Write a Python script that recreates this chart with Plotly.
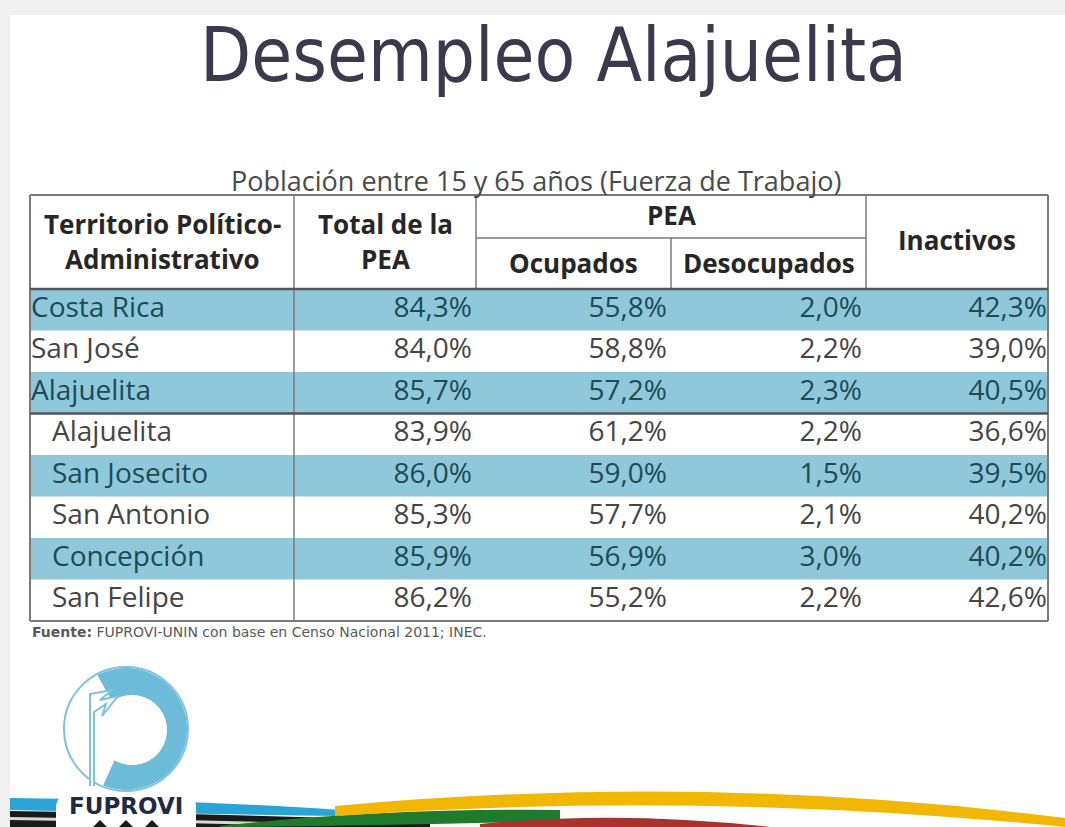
import numpy as np
import plotly.graph_objects as go

# ---------------- data ----------------
territorios = ["Costa Rica", "San José", "Alajuelita", "Alajuelita",
               "San Josecito", "San Antonio", "Concepción", "San Felipe"]
nivel = [0, 0, 0, 1, 1, 1, 1, 1]          # 0 = país/provincia/cantón, 1 = distrito
total_pea = [84.3, 84.0, 85.7, 83.9, 86.0, 85.3, 85.9, 86.2]
ocupados = [55.8, 58.8, 57.2, 61.2, 59.0, 57.7, 56.9, 55.2]
desocupados = [2.0, 2.2, 2.3, 2.2, 1.5, 2.1, 3.0, 2.2]
inactivos = [42.3, 39.0, 40.5, 36.6, 39.5, 40.2, 40.2, 42.6]

titulo = "Desempleo Alajuelita"
subtitulo = "Población entre 15 y 65 años (Fuerza de Trabajo)"
fuente = "FUPROVI-UNIN con base en Censo Nacional 2011; INEC."

# ---------------- layout geometry ----------------
W, H = 1065, 827
col_edges = [30, 294, 476, 671, 866, 1048]
top_y, head_bot, sub_y = 195, 289, 238
row_h = 41.5
n = len(territorios)
bot_y = head_bot + n * row_h

BAND = "#8fc8da"
LINE = "#7a7a7a"
TXT_DARK = "#1d4a57"
TXT_GRAY = "#454545"
HEAD = "#262626"
FONT = "'Open Sans', Lato, sans-serif"

def fmt(v):
    return f"{v:.1f}".replace(".", ",") + "%"

fig = go.Figure()
shapes = []
ann = []

# slide background / frame
shapes.append(dict(type="rect", x0=0, x1=W, y0=0, y1=H, fillcolor="#f0f0f0", line_width=0, layer="below"))
shapes.append(dict(type="rect", x0=10, x1=W, y0=15, y1=H, fillcolor="white", line_width=0, layer="below"))

# row bands
banded = [i for i in range(n) if i in (0, 2, 4, 6)]
for i in banded:
    y0 = head_bot + i * row_h
    shapes.append(dict(type="rect", x0=col_edges[0], x1=col_edges[-1], y0=y0, y1=y0 + row_h,
                       fillcolor=BAND, line_width=0, layer="below"))

# table lines
def seg(x0, y0, x1, y1, w=1.5, c=LINE):
    shapes.append(dict(type="line", x0=x0, y0=y0, x1=x1, y1=y1, line=dict(color=c, width=w)))

seg(col_edges[0], top_y, col_edges[-1], top_y, 2)
seg(col_edges[0], bot_y, col_edges[-1], bot_y, 2)
seg(col_edges[0], top_y, col_edges[0], bot_y, 2)
seg(col_edges[-1], top_y, col_edges[-1], bot_y, 2)
seg(col_edges[1], top_y, col_edges[1], bot_y, 1.5)
for k in (2, 4):
    seg(col_edges[k], top_y, col_edges[k], head_bot, 1.5)
seg(col_edges[3], sub_y, col_edges[3], head_bot, 1.5)
seg(col_edges[2], sub_y, col_edges[4], sub_y, 1.5)
seg(col_edges[0], head_bot, col_edges[-1], head_bot, 2.5, "#555555")
seg(col_edges[0], head_bot + 3 * row_h, col_edges[-1], head_bot + 3 * row_h, 2.5, "#555555")

# header text
def htext(x, y, t, size=26):
    ann.append(dict(x=x, y=y, text=t, showarrow=False, xanchor="center", yanchor="middle",
                    font=dict(family=FONT, size=size, color=HEAD, weight="bold")))

mid = lambda a, b: (a + b) / 2
htext(mid(col_edges[0], col_edges[1]), 224, "Territorio Político-")
htext(mid(col_edges[0], col_edges[1]), 259, "Administrativo")
htext(mid(col_edges[1], col_edges[2]), 224, "Total de la")
htext(mid(col_edges[1], col_edges[2]), 259, "PEA")
htext(mid(col_edges[2], col_edges[4]), 215, "PEA")
htext(mid(col_edges[2], col_edges[3]), 263, "Ocupados")
htext(mid(col_edges[3], col_edges[4]), 263, "Desocupados")
htext(mid(col_edges[4], col_edges[5]), 240, "Inactivos")

# data cells
row_y = [head_bot + (i + 0.5) * row_h for i in range(n)]
colors = [TXT_DARK if i in banded else TXT_GRAY for i in range(n)]
name_x = [col_edges[0] + 1 + 21 * lv for lv in nivel]
fig.add_trace(go.Scatter(x=name_x, y=row_y, mode="text", text=territorios,
                         textposition="middle right",
                         textfont=dict(family=FONT, size=28, color=colors),
                         hoverinfo="skip", showlegend=False))
for k, vals in enumerate([total_pea, ocupados, desocupados, inactivos]):
    xr = col_edges[k + 2] - (4 if k < 3 else 1)
    fig.add_trace(go.Scatter(x=[xr] * n, y=row_y, mode="text", text=[fmt(v) for v in vals],
                             textposition="middle left",
                             textfont=dict(family=FONT, size=28, color=colors),
                             hoverinfo="skip", showlegend=False))

# title, subtitle, source
ann.append(dict(x=553, y=55, text=titulo, showarrow=False, xanchor="center", yanchor="middle",
                font=dict(family="'DejaVu Sans Condensed', 'DejaVu Sans', sans-serif",
                          size=74, color="#3a3a4c")))
ann.append(dict(x=536, y=180, text=subtitulo, showarrow=False, xanchor="center", yanchor="middle",
                font=dict(family=FONT, size=27, color="#4a4a4a")))
ann.append(dict(x=30, y=632, text="<b>Fuente:</b> " + fuente, showarrow=False, xanchor="left",
                yanchor="middle", font=dict(family="DejaVu Sans", size=14, color="#5a5a5a")))

# ---------------- bottom swoosh (decoration) ----------------
def band(top, bot, color):
    p = f"M {top[0][0]},{top[0][1]} Q {top[1][0]},{top[1][1]} {top[2][0]},{top[2][1]} "
    p += f"L {bot[2][0]},{bot[2][1]} Q {bot[1][0]},{bot[1][1]} {bot[0][0]},{bot[0][1]} Z"
    shapes.append(dict(type="path", path=p, fillcolor=color, line_width=0))

band([(10, 798), (200, 800), (340, 810)], [(10, 810), (200, 814), (340, 816)], "#2aa3d6")
band([(10, 811), (250, 814), (430, 822)], [(10, 827), (250, 827), (430, 827)], "#1a1a1a")
band([(10, 817), (150, 819), (300, 823)], [(10, 820), (150, 822), (300, 826)], "#d8d8d8")
band([(220, 826), (380, 808), (560, 810)], [(220, 827), (380, 826), (560, 821)], "#1f7a2e")
band([(335, 806), (700, 772), (1065, 818)], [(335, 816), (700, 790), (1065, 827)], "#f2b705")
band([(480, 824), (620, 810), (770, 827)], [(480, 827), (620, 827), (770, 827)], "#a8322d")

# ---------------- logo (decoration) ----------------
cx, cy, R = 126, 729, 62
shapes.append(dict(type="path",
                   path="M 56,827 L 56,805 Q 62,785 85,786 L 170,786 Q 192,785 196,805 L 196,827 Z",
                   fillcolor="white", line_width=0))
shapes.append(dict(type="circle", x0=cx - R - 4, x1=cx + R + 4, y0=cy - R - 4, y1=cy + R + 4,
                   fillcolor="white", line_width=0))
shapes.append(dict(type="circle", x0=cx - R, x1=cx + R, y0=cy - R, y1=cy + R,
                   fillcolor="white", line=dict(color="#7cc3dd", width=2)))
th_o = np.radians(np.linspace(118, -112, 60))
outer = [(cx + (R - 1) * np.cos(t), cy - (R - 1) * np.sin(t)) for t in th_o]
ci, ri = (cx + 6, cy + 1), 35
th_i = np.radians(np.linspace(-120, 125, 60))
inner = [(ci[0] + ri * np.cos(t), ci[1] - ri * np.sin(t)) for t in th_i]
pts = outer + inner
path = "M " + " L ".join(f"{x:.1f},{y:.1f}" for x, y in pts) + " Z"
shapes.append(dict(type="path", path=path, fillcolor="#6bbbd9", line_width=0))
shapes.append(dict(type="path",
                   path="M 94,786 L 94,712 L 106,704 L 102,716 L 118,696 L 100,700 L 112,690 L 90,694 L 90,786",
                   fillcolor="white", line=dict(color="#7cc3dd", width=2)))
ann.append(dict(x=126, y=806, text="<b>FUPROVI</b>", showarrow=False, xanchor="center", yanchor="middle",
                font=dict(family="'DejaVu Sans'", size=23, color="#1e2a44")))
for mx in (100, 126, 152):
    shapes.append(dict(type="path", path=f"M {mx-7},827 L {mx},820 L {mx+7},827 Z",
                       fillcolor="#1a1a1a", line_width=0))

fig.update_layout(
    width=W, height=H, margin=dict(l=0, r=0, t=0, b=0),
    paper_bgcolor="white", plot_bgcolor="white",
    xaxis=dict(range=[0, W], visible=False, fixedrange=True),
    yaxis=dict(range=[H, 0], visible=False, fixedrange=True),
    shapes=shapes, annotations=ann, showlegend=False,
)
fig.write_html("out.html", config={"displayModeBar": False},
               post_script="document.body.style.margin='0';document.body.style.overflow='hidden';")
